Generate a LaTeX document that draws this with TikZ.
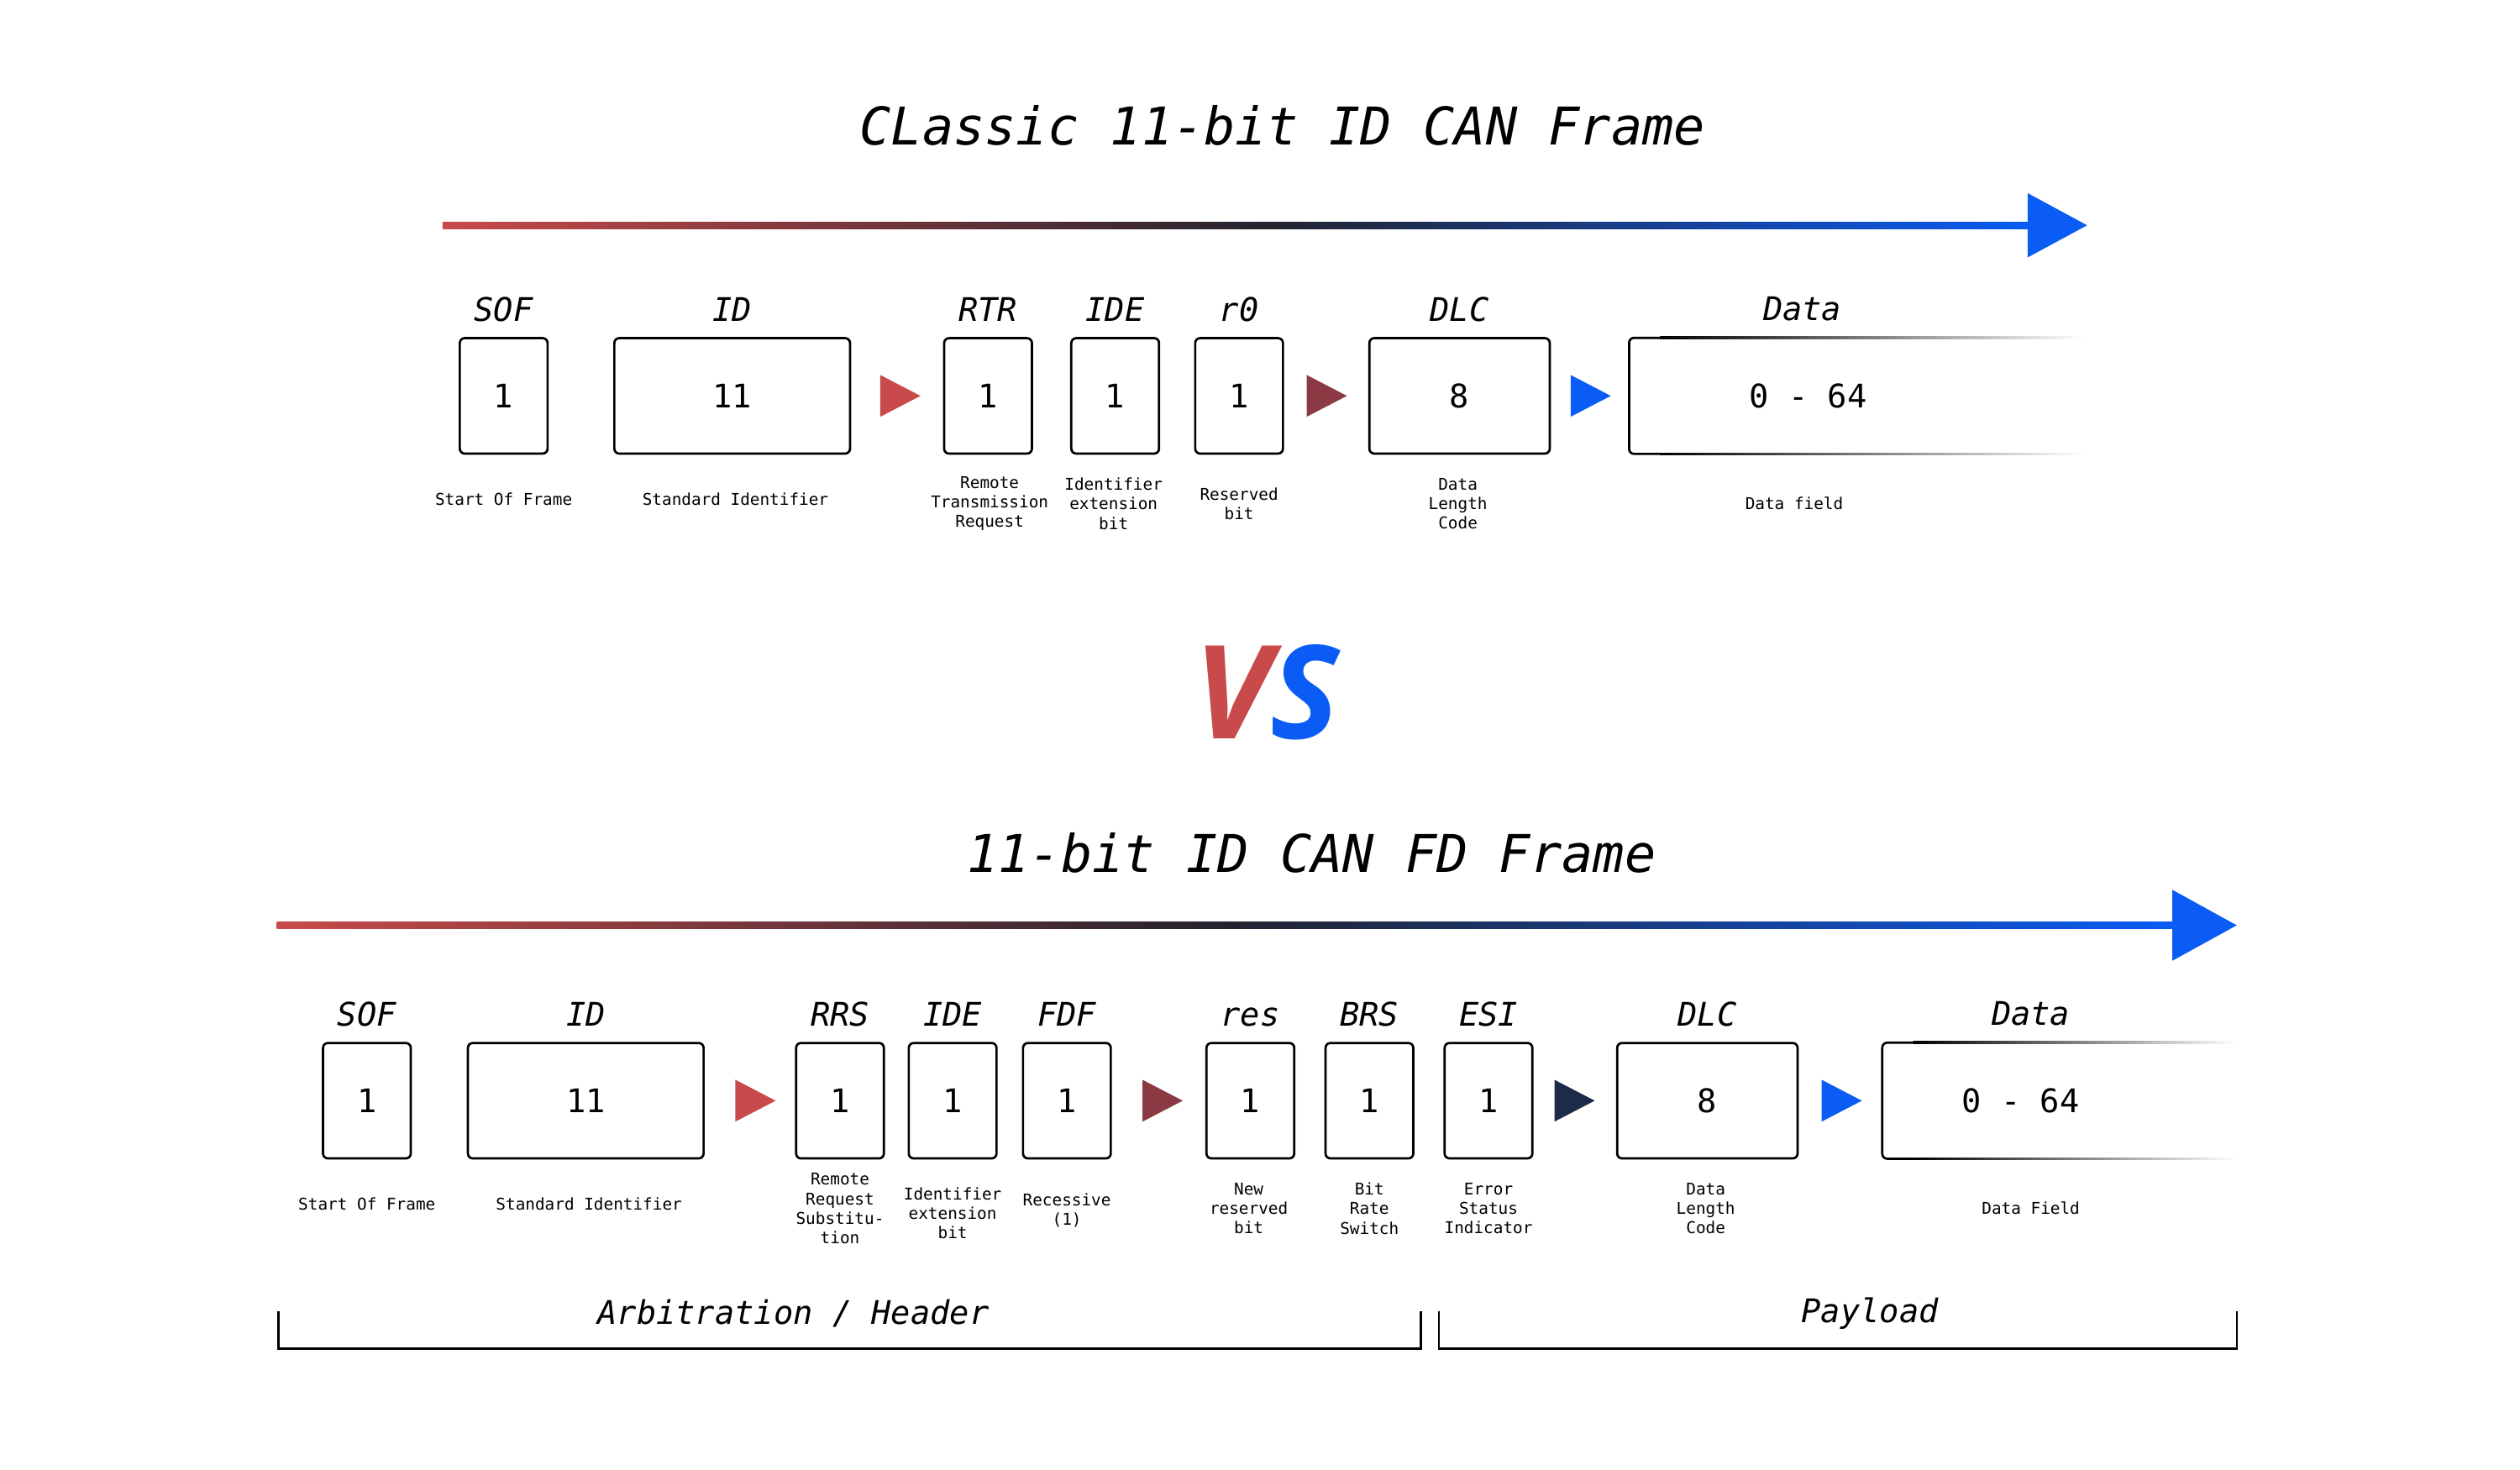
\documentclass[tikz,border=0pt]{standalone}
\usepackage{fontspec}
\setmonofont{DejaVu Sans Mono}
\newfontfamily\vsfont{Open Sans}
\usetikzlibrary{positioning}
\definecolor{canred}{HTML}{C84A4A}
\definecolor{canblue}{HTML}{0A5CF5}
\definecolor{candark}{HTML}{23232E}
\definecolor{canmid}{HTML}{8B3A44}
\definecolor{cannavy}{HTML}{1E2A4A}
\tikzset{
  box/.style={draw, rounded corners=3pt, line width=1.4pt, minimum height=71pt, inner sep=0pt, font=\fontsize{20}{24}\selectfont\ttfamily},
  hdr/.style={font=\fontsize{20}{24}\selectfont\ttfamily\itshape},
  note/.style={font=\fontsize{10}{12}\selectfont\ttfamily, align=center},
  ttl/.style={font=\fontsize{32}{38}\selectfont\ttfamily\itshape},
}
\newcommand{\tri}[3]{\fill[#3] (#1-12,#2-13) -- (#1+13,#2) -- (#1-12,#2+13) -- cycle;}
\begin{document}
\begin{tikzpicture}[x=0.99pt, y=-0.99pt]
\useasboundingbox (0,0) rectangle (1566,913);

% classic frame
\node[ttl] (t1) at (797,78) {CLassic 11-bit ID CAN Frame};
\shade[left color=canred, right color=candark] (275,138) rectangle (790,142);
\shade[left color=candark, right color=canblue] (789,138) rectangle (1265,142);
\fill[canblue] (1260,120) -- (1297,140) -- (1260,160) -- cycle;

\node[box, minimum width=54pt] (sof1) at (313,246) {1};
\node[box, minimum width=145pt] (id1) at (455,246) {11};
\node[box, minimum width=54pt] (rtr1) at (614,246) {1};
\node[box, minimum width=54pt] (ide1) at (693,246) {1};
\node[box, minimum width=54pt] (r01) at (770,246) {1};
\node[box, minimum width=111pt] (dlc1) at (907,246) {8};
\node[minimum width=280pt, minimum height=71pt, inner sep=0pt, font=\fontsize{20}{24}\selectfont\ttfamily] (data1) at (1154,246) {\hspace*{-60pt}0 - 64};
\draw[line width=1.4pt, rounded corners=3pt] ([xshift=20pt]data1.north west) -- (data1.north west) -- (data1.south west) -- ([xshift=20pt]data1.south west);
\shade[left color=black, right color=white] ([xshift=19pt,yshift=0.7pt]data1.north west) rectangle ([yshift=-0.7pt]data1.north east);
\shade[left color=black, right color=white] ([xshift=19pt,yshift=0.7pt]data1.south west) rectangle ([yshift=-0.7pt]data1.south east);
\tri{559}{246}{canred}
\tri{824}{246}{canmid}
\tri{988}{246}{canblue}

\foreach \n/\t in {sof1/SOF, id1/ID, rtr1/RTR, ide1/IDE, r01/r0, dlc1/DLC}
  \node[hdr, above=6pt of \n] {\t};
\node[hdr] at (1120,192) {Data};
\node[note] at (313,310) {Start Of Frame};
\node[note] at (457,310) {Standard Identifier};
\node[note] at (615,313) {Remote\\Transmission\\Request};
\node[note] at (692,313) {Identifier\\extension\\bit};
\node[note] at (770,313) {Reserved\\bit};
\node[note] at (906,313) {Data\\Length\\Code};
\node[note] at (1115,313) {Data field};

% vs
\node[font=\fontsize{80}{90}\selectfont\vsfont\bfseries\itshape] (vs) at (787,430) {\textcolor{canred}{V}\textcolor{canblue}{S}};

% fd frame
\node[ttl] (t2) at (815,530) {11-bit ID CAN FD Frame};
\shade[left color=canred, right color=candark] (172,573) rectangle (765,577);
\shade[left color=candark, right color=canblue] (764,573) rectangle (1355,577);
\fill[canblue] (1350,553) -- (1390,575) -- (1350,597) -- cycle;

\node[box, minimum width=54pt] (sof2) at (228,684) {1};
\node[box, minimum width=145pt] (id2) at (364,684) {11};
\node[box, minimum width=54pt] (rrs2) at (522,684) {1};
\node[box, minimum width=54pt] (ide2) at (592,684) {1};
\node[box, minimum width=54pt] (fdf2) at (663,684) {1};
\node[box, minimum width=54pt] (res2) at (777,684) {1};
\node[box, minimum width=54pt] (brs2) at (851,684) {1};
\node[box, minimum width=54pt] (esi2) at (925,684) {1};
\node[box, minimum width=111pt] (dlc2) at (1061,684) {8};
\node[minimum width=218pt, minimum height=71pt, inner sep=0pt, font=\fontsize{20}{24}\selectfont\ttfamily] (data2) at (1280,684) {\hspace*{-48pt}0 - 64};
\draw[line width=1.4pt, rounded corners=3pt] ([xshift=20pt]data2.north west) -- (data2.north west) -- (data2.south west) -- ([xshift=20pt]data2.south west);
\shade[left color=black, right color=white] ([xshift=19pt,yshift=0.7pt]data2.north west) rectangle ([yshift=-0.7pt]data2.north east);
\shade[left color=black, right color=white] ([xshift=19pt,yshift=0.7pt]data2.south west) rectangle ([yshift=-0.7pt]data2.south east);
\tri{469}{684}{canred}
\tri{722}{684}{canmid}
\tri{978}{684}{cannavy}
\tri{1144}{684}{canblue}

\foreach \n/\t in {sof2/SOF, id2/ID, rrs2/RRS, ide2/IDE, fdf2/FDF, res2/res, brs2/BRS, esi2/ESI, dlc2/DLC}
  \node[hdr, above=6pt of \n] {\t};
\node[hdr] at (1262,630) {Data};
\node[note] at (228,748) {Start Of Frame};
\node[note] at (366,748) {Standard Identifier};
\node[note] at (522,751) {Remote\\Request\\Substitu-\\tion};
\node[note] at (592,754) {Identifier\\extension\\bit};
\node[note] at (663,752) {Recessive\\(1)};
\node[note] at (776,751) {New\\reserved\\bit};
\node[note] at (851,751) {Bit\\Rate\\Switch};
\node[note] at (925,751) {Error\\Status\\Indicator};
\node[note] at (1060,751) {Data\\Length\\Code};
\node[note] at (1262,751) {Data Field};

% brackets
\coordinate (a1) at (173,815); \coordinate (a2) at (883,815);
\coordinate (p1) at (894,815); \coordinate (p2) at (1390,815);
\draw[line width=1.2pt] (a1) -- ++(0,23) -| (a2);
\draw[line width=1.2pt] (p1) -- ++(0,23) -| (p2);
\node[hdr] (arb) at (493,816) {Arbitration / Header};
\node[hdr] (pay) at (1162,816) {Payload};
\end{tikzpicture}
\end{document}
